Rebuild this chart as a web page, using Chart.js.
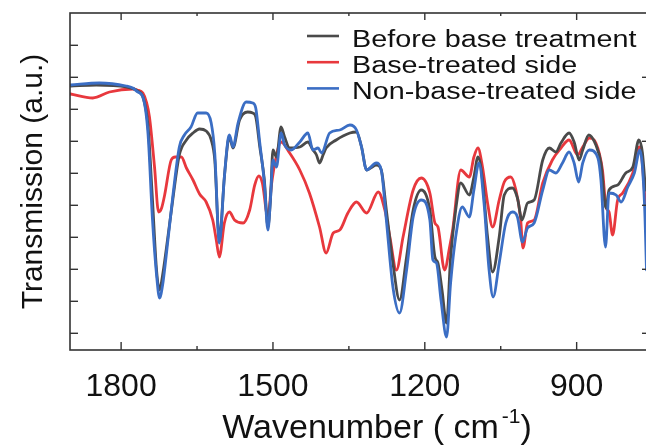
<!DOCTYPE html>
<html><head><meta charset="utf-8">
<script src="https://cdn.jsdelivr.net/npm/chart.js@4.4.1/dist/chart.umd.min.js"></script>
<style>
html,body{margin:0;padding:0;background:#fff;overflow:hidden;}
#wrap{width:646px;height:445px;overflow:hidden;position:relative;}
canvas{display:block;}
</style></head><body>
<div id="wrap"><canvas id="c" width="649" height="445"></canvas></div>
<script>
// ---- data (wavenumber in cm^-1, transmission in a.u.) ----
const beforeWn = [1900,1849,1790,1767,1757,1747,1738,1730,1724,1718,1711,1698,1685,1671,1658,1645,1632,1622,1615,1606,1596,1589,1586,1579,1566,1550,1540,1534,1526,1517,1510,1505,1500,1493,1484,1477,1467,1447,1431,1421,1414,1408,1401,1395,1375,1348,1335,1325,1315,1307,1296,1286,1276,1263,1250,1236,1223,1207,1190,1180,1174,1166,1157,1149,1139,1129,1112,1103,1095,1086,1076,1066,1053,1043,1027,1017,1008,997,984,967,954,941,931,915,905,895,888,876,862,852,842,836,819,803,789,777,770,764];
const beforeT = [2.64,2.65,2.63,2.59,2.53,2.25,1.50,0.80,0.60,0.75,1.00,1.50,1.95,2.10,2.17,2.21,2.19,2.10,1.90,1.10,1.73,2.08,2.13,2.02,2.30,2.38,2.37,2.33,2.03,1.70,1.23,1.50,2.00,1.93,2.23,2.13,2.02,2.03,2.08,2.00,1.95,1.87,1.95,2.02,2.10,2.17,2.18,2.03,1.80,1.82,1.85,1.80,1.40,0.87,0.50,0.93,1.40,1.60,1.40,0.93,0.87,0.60,0.27,0.93,1.40,1.67,1.55,1.73,1.93,1.70,1.13,0.78,1.13,1.55,1.62,1.52,1.30,1.47,1.50,1.90,2.02,1.98,2.07,2.17,2.08,1.90,2.00,2.15,2.05,1.87,1.42,1.60,1.65,1.77,1.83,2.10,1.97,1.60];

const baseWn = [1900,1856,1823,1777,1768,1757,1750,1744,1734,1726,1720,1714,1701,1693,1681,1671,1658,1645,1632,1619,1612,1606,1596,1586,1576,1559,1546,1536,1528,1521,1510,1503,1495,1484,1467,1447,1428,1408,1395,1381,1368,1352,1335,1315,1292,1279,1269,1256,1243,1223,1207,1190,1180,1174,1161,1151,1145,1129,1112,1103,1095,1086,1076,1066,1053,1043,1030,1020,1011,1006,997,984,967,948,931,915,898,888,875,862,849,842,836,829,819,809,789,776,773,763];
const baseT = [2.56,2.52,2.58,2.61,2.60,2.57,2.48,2.33,1.83,1.38,1.42,1.55,1.90,1.93,1.93,1.82,1.70,1.56,1.48,1.30,1.10,0.93,1.27,1.38,1.30,1.27,1.40,1.65,1.74,1.67,1.33,1.65,1.90,2.08,1.97,1.80,1.57,1.23,0.97,1.17,1.20,1.37,1.48,1.37,1.58,1.40,1.13,0.80,1.13,1.60,1.72,1.57,1.27,1.23,0.80,1.03,1.20,1.80,1.73,1.93,2.02,1.83,1.47,1.23,1.50,1.68,1.73,1.60,1.33,1.02,1.27,1.30,1.67,1.90,2.02,2.10,1.95,2.03,2.12,2.07,1.80,1.43,1.38,1.15,1.50,1.57,1.77,2.03,2.00,1.37];

const nonBaseWn = [1900,1843,1790,1777,1767,1757,1747,1738,1730,1724,1718,1711,1698,1685,1675,1662,1649,1632,1622,1615,1606,1596,1589,1586,1579,1569,1553,1540,1534,1526,1517,1510,1505,1500,1493,1484,1477,1464,1447,1431,1421,1411,1404,1388,1368,1348,1335,1325,1315,1296,1286,1276,1263,1250,1236,1223,1207,1190,1184,1177,1168,1157,1149,1139,1126,1112,1103,1093,1083,1073,1065,1053,1040,1027,1017,1007,997,984,967,954,941,928,915,905,896,888,875,858,852,843,836,822,812,799,786,775,766,762];
const nonBaseT = [2.65,2.67,2.64,2.62,2.58,2.53,2.17,1.30,0.75,0.52,0.65,0.94,1.53,2.03,2.15,2.23,2.37,2.37,2.27,1.97,1.07,1.73,2.10,2.15,2.03,2.27,2.48,2.47,2.42,2.07,1.67,1.20,1.50,1.90,1.83,2.17,2.05,2.00,2.08,2.17,2.00,2.02,1.97,2.17,2.20,2.25,2.20,2.03,1.80,1.87,1.80,1.30,0.63,0.37,0.80,1.33,1.50,1.30,0.90,0.87,0.50,0.13,0.67,1.13,1.43,1.33,1.60,1.87,1.47,0.80,0.53,0.87,1.27,1.38,1.33,1.08,1.22,1.27,1.60,1.80,1.77,1.87,1.98,1.87,1.68,1.87,2.00,1.92,1.70,1.03,1.57,1.55,1.48,1.63,1.77,2.00,1.47,0.80];

const seriesLabels = ['Before base treatment', 'Base-treated side', 'Non-base-treated side'];
const seriesColors = ['#4a4a4a', '#e8383d', '#3b6ec4'];
const xTickLabels = [1800, 1500, 1200, 900];
const xTitleMain = 'Wavenumber ( cm';
const xTitleSup = '-1';
const xTitleEnd = ')';
const yTitle = 'Transmission (a.u.)';

const FONT = '"Liberation Sans", Arial, Helvetica, sans-serif';
const Y_TICK_START = 0.167, Y_TICK_STEP = 0.32, Y_TICK_COUNT = 10;

function pts(wn, t) { return wn.map((w, i) => ({ x: w, y: t[i] })); }

function seg(ctx, x1, y1, x2, y2) { ctx.beginPath(); ctx.moveTo(x1, y1); ctx.lineTo(x2, y2); ctx.stroke(); }

const framePlugin = {
  id: 'frame',
  afterDatasetsDraw(chart) {
    const ctx = chart.ctx, a = chart.chartArea, xs = chart.scales.x, ys = chart.scales.y;
    ctx.save();
    ctx.strokeStyle = '#333';
    ctx.lineWidth = 1.6;
    ctx.strokeRect(a.left, a.top, a.right - a.left, a.bottom - a.top);
    ctx.lineWidth = 1.4;
    xs.ticks.forEach(tk => {
      if (tk.value % 150 !== 0) return;
      const px = xs.getPixelForValue(tk.value);
      const major = xTickLabels.includes(tk.value);
      seg(ctx, px, a.bottom, px, a.bottom - (major ? 8 : 4));
      seg(ctx, px, a.top, px, a.top + (major ? 7 : 3));
    });
    ys.ticks.forEach((tk, i) => {
      const py = ys.getPixelForValue(tk.value);
      seg(ctx, a.left, py, a.left + 8, py);
      if (i % 2 === 0) seg(ctx, a.right, py, a.right - 5, py);
    });
    ctx.restore();
  },
  afterDraw(chart) {
    const ctx = chart.ctx;
    ctx.save();
    // legend
    const sets = chart.data.datasets;
    ctx.font = '23px ' + FONT;
    ctx.fillStyle = '#111';
    ctx.textBaseline = 'alphabetic';
    sets.forEach((ds, i) => {
      const ly = 36 + i * 26.2;
      ctx.strokeStyle = ds.borderColor;
      ctx.lineWidth = 2.6;
      seg(ctx, 307, ly, 339, ly);
      ctx.save();
      ctx.translate(352, ly + 10.5);
      ctx.scale(1.25, 1);
      ctx.fillText(ds.label, 0, 0);
      ctx.restore();
    });
    // x-axis title with superscript
    ctx.fillStyle = '#111';
    const big = '34px ' + FONT, small = '21px ' + FONT;
    ctx.font = big; const w1 = ctx.measureText(xTitleMain).width + 3;
    const w3 = ctx.measureText(xTitleEnd).width;
    ctx.font = small; const w2 = ctx.measureText(xTitleSup).width;
    const total = w1 + w2 + w3;
    let x0 = 377 - total / 2;
    const base = 438;
    ctx.textAlign = 'left';
    ctx.font = big; ctx.fillText(xTitleMain, x0, base);
    ctx.font = small; ctx.fillText(xTitleSup, x0 + w1, base - 15);
    ctx.font = big; ctx.fillText(xTitleEnd, x0 + w1 + w2, base);
    ctx.restore();
  }
};

const cfg = {
  type: 'line',
  data: {
    datasets: [
      { label: seriesLabels[0], data: pts(beforeWn, beforeT), borderColor: seriesColors[0], order: 2 },
      { label: seriesLabels[1], data: pts(baseWn, baseT), borderColor: seriesColors[1], order: 3 },
      { label: seriesLabels[2], data: pts(nonBaseWn, nonBaseT), borderColor: seriesColors[2], order: 1 }
    ]
  },
  options: {
    responsive: false,
    animation: false,
    parsing: false,
    datasets: { line: { borderWidth: 2.8, pointRadius: 0, fill: false, cubicInterpolationMode: 'monotone', borderJoinStyle: 'round', borderCapStyle: 'round' } },
    layout: { padding: { left: 0, top: 13, right: 2, bottom: 0 } },
    plugins: { legend: { display: false }, tooltip: { enabled: false } },
    scales: {
      x: {
        type: 'linear', reverse: true, min: 761, max: 1901,
        grid: { display: false }, border: { display: false },
        ticks: {
          stepSize: 150, includeBounds: false, autoSkip: false, maxRotation: 0,
          font: { size: 32, family: FONT }, color: '#111', padding: 10,
          callback: v => xTickLabels.includes(v) ? String(v) : ''
        },
        afterFit: s => { s.height = 95; }
      },
      y: {
        min: 0, max: 3.37,
        grid: { display: false }, border: { display: false },
        ticks: { display: false },
        afterBuildTicks: s => {
          const arr = [];
          for (let i = 0; i < Y_TICK_COUNT; i++) arr.push({ value: +(Y_TICK_START + i * Y_TICK_STEP).toFixed(3) });
          s.ticks = arr;
        },
        title: { display: true, text: yTitle, color: '#111', font: { size: 30, family: FONT }, padding: { top: 16, bottom: 0 } },
        afterFit: s => { s.width = 70; }
      }
    }
  },
  plugins: [framePlugin]
};
new Chart(document.getElementById('c'), cfg);
</script>
</body></html>
